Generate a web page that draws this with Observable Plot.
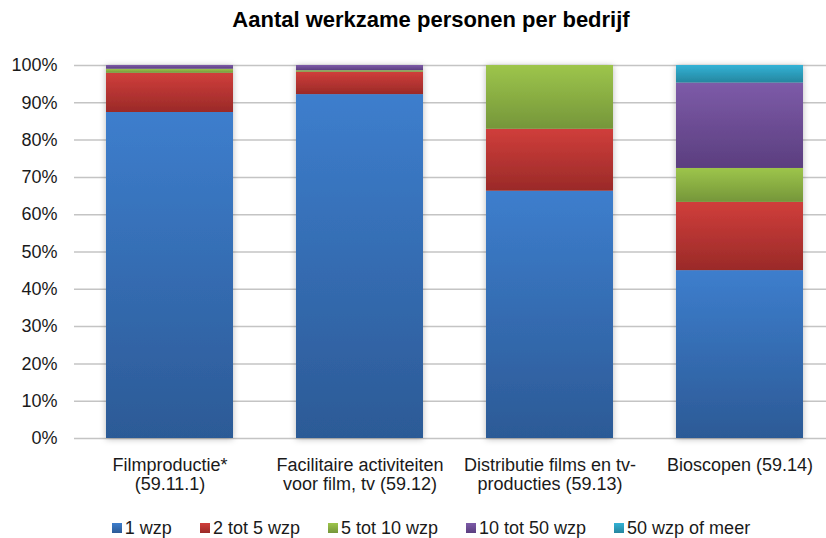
<!DOCTYPE html>
<html>
<head>
<meta charset="utf-8">
<script src="https://cdn.jsdelivr.net/npm/d3@7"></script>
<script src="https://cdn.jsdelivr.net/npm/@observablehq/plot@0.6"></script>
<style>
  html, body { margin: 0; padding: 0; background: #fff; }
  body { width: 826px; height: 538px; position: relative; overflow: hidden; font-family: "Liberation Sans", Arial, sans-serif; color: #1a1a1a; }
  #title { position: absolute; top: 6px; left: 36px; width: 790px; text-align: center; font-weight: bold; font-size: 22px; line-height: 28px; color: #000; }
  #chart { position: absolute; top: 40px; left: 0; }
  #legend { position: absolute; top: 516px; left: 36px; width: 790px; height: 24px; display: flex; justify-content: center; gap: 28px; font-size: 18px; line-height: 24px; }
  #legend .item { display: flex; align-items: center; gap: 3px; white-space: nowrap; }
  #legend .sw { width: 10px; height: 10px; display: inline-block; }
</style>
</head>
<body>
<div id="title">Aantal werkzame personen per bedrijf</div>
<div id="chart"></div>
<div id="legend"></div>
<script>
const categories = [
  "Filmproductie*\n(59.11.1)",
  "Facilitaire activiteiten\nvoor film, tv (59.12)",
  "Distributie films en tv-\nproducties (59.13)",
  "Bioscopen (59.14)"
];
const series = ["1 wzp", "2 tot 5 wzp", "5 tot 10 wzp", "10 tot 50 wzp", "50 wzp of meer"];
const wzp1     = [87.4, 92.2, 66.3, 45.0];
const wzp2to5  = [10.5,  6.0, 16.6, 18.3];
const wzp5to10 = [ 1.1,  0.4, 17.1,  9.1];
const wzp10to50= [ 1.0,  1.4,  0.0, 22.9];
const wzp50plus= [ 0.0,  0.0,  0.0,  4.7];
const yTicks = [0, 0.1, 0.2, 0.3, 0.4, 0.5, 0.6, 0.7, 0.8, 0.9, 1];

const colorsTop = ["#3d7ecd", "#d03e3b", "#9dc54b", "#7d5ba8", "#33b2d6"];
const colorsBottom = ["#2c5a96", "#9a2a28", "#75963a", "#5b3e7f", "#25869f"];

const seriesValues = [wzp1, wzp2to5, wzp5to10, wzp10to50, wzp50plus];
const table = [];
series.forEach((s, i) => {
  categories.forEach((c, j) => {
    table.push({category: c, series: s, value: seriesValues[i][j]});
  });
});

const plot = Plot.plot({
  width: 826,
  height: 470,
  marginTop: 25,
  marginBottom: 72,
  marginLeft: 74,
  marginRight: 0,
  style: {fontFamily: "'Liberation Sans', Arial, sans-serif", fontSize: "18px", color: "#1a1a1a", background: "#fff"},
  x: {domain: categories, range: [73.6, 836.6], paddingInner: 0.33, paddingOuter: 0.165, label: null},
  y: {domain: [0, 1], label: null},
  color: {domain: series, range: series.map((s, i) => `url(#grad${i})`)},
  marks: [
    Plot.ruleY(yTicks, {stroke: "#c4c4c4", strokeWidth: 1.5}),
    Plot.barY(table, Plot.stackY({
      x: "category",
      y: "value",
      fill: "series",
      order: series,
      offset: "normalize"
    })),
    Plot.axisY(yTicks, {tickFormat: d3.format(".0%"), tickSize: 0, tickPadding: 17, fontSize: 18, label: null}),
    Plot.axisX({tickSize: 0, tickPadding: 19, fontSize: 18, lineHeight: 1.05, label: null})
  ]
});

const svg = d3.select(plot);
const defs = svg.insert("defs", ":first-child");
colorsTop.forEach((c, i) => {
  const g = defs.append("linearGradient").attr("id", `grad${i}`)
    .attr("x1", 0).attr("y1", 0).attr("x2", 0).attr("y2", 1);
  g.append("stop").attr("offset", "0%").attr("stop-color", c);
  g.append("stop").attr("offset", "100%").attr("stop-color", colorsBottom[i]);
});
const f = defs.append("filter").attr("id", "shadow")
  .attr("x", "-10%").attr("y", "-10%").attr("width", "120%").attr("height", "120%");
f.append("feDropShadow").attr("dx", 0).attr("dy", 1).attr("stdDeviation", 3)
  .attr("flood-color", "#000").attr("flood-opacity", 0.28);
svg.selectAll('g[aria-label="bar"]').attr("filter", "url(#shadow)");

document.getElementById("chart").appendChild(plot);

const legend = document.getElementById("legend");
series.forEach((s, i) => {
  const item = document.createElement("div");
  item.className = "item";
  const sw = document.createElement("span");
  sw.className = "sw";
  sw.style.background = `linear-gradient(${colorsTop[i]}, ${colorsBottom[i]})`;
  const t = document.createElement("span");
  t.textContent = s;
  item.appendChild(sw);
  item.appendChild(t);
  legend.appendChild(item);
});
</script>
</body>
</html>
